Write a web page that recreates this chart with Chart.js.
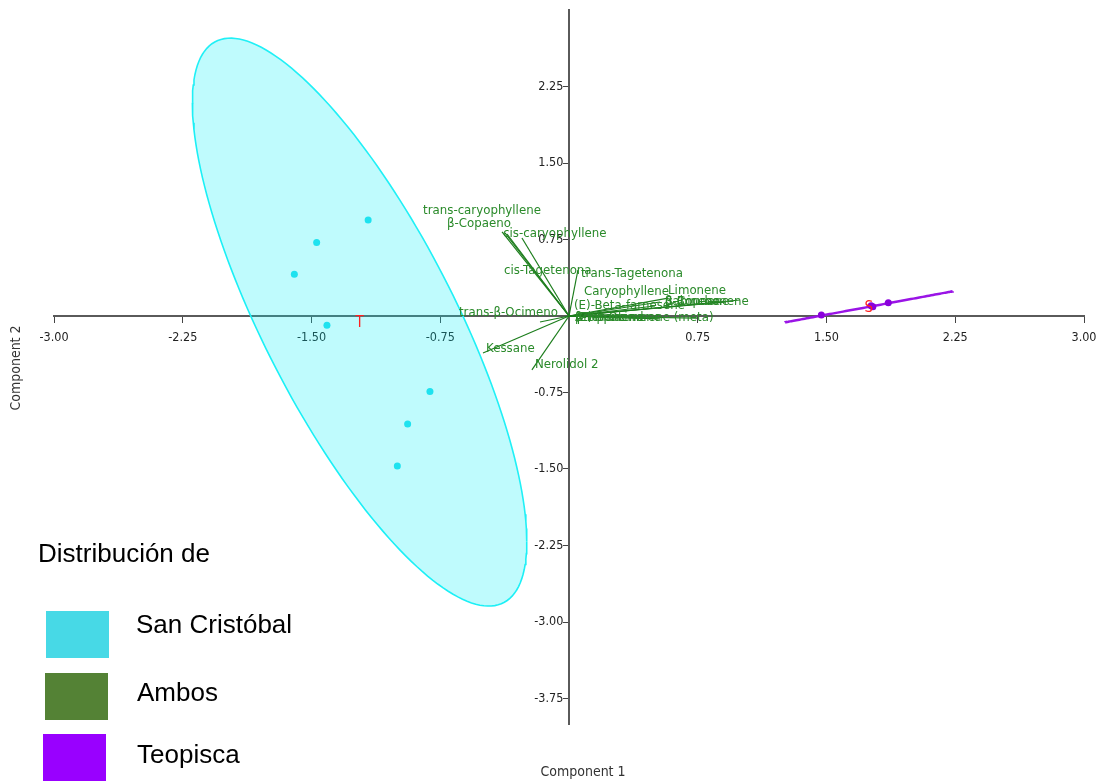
<!DOCTYPE html>
<html>
<head>
<meta charset="utf-8">
<script src="https://cdn.jsdelivr.net/npm/chart.js@4.4.0/dist/chart.umd.min.js"></script>
<style>
  body { margin: 0; background: #fff; }
  #wrap { position: relative; width: 1101px; height: 783px; }
  #biplot { position: absolute; left: 0; top: 0; }
  .legend-text { position: absolute; font-family: "Liberation Sans", Arial, sans-serif; font-size: 26px; line-height: 30px; color: #000; white-space: nowrap; }
  .swatch { position: absolute; width: 63px; height: 47px; }
</style>
</head>
<body>
<div id="wrap">
  <canvas id="biplot"></canvas>
  <div class="legend-text" style="left:38px; top:538px;">Distribución de</div>
  <div class="swatch" style="left:46px; top:611px; background:#47d9e6;"></div>
  <div class="legend-text" style="left:136px; top:609px;">San Cristóbal</div>
  <div class="swatch" style="left:45px; top:673px; background:#548235;"></div>
  <div class="legend-text" style="left:137px; top:677px;">Ambos</div>
  <div class="swatch" style="left:43px; top:734px; background:#9900ff;"></div>
  <div class="legend-text" style="left:137px; top:739px;">Teopisca</div>
</div>
<script>
// PCA biplot (Component 1 vs Component 2)

// sample scores
const scX = [-1.17, -1.47, -1.60, -1.41, -0.81, -0.94, -1.00];
const scY = [0.94, 0.72, 0.41, -0.09, -0.74, -1.06, -1.47];
const teoX = [1.47, 1.76, 1.77, 1.86];
const teoY = [0.01, 0.10, 0.09, 0.13];

// 95% ellipses: centre x, centre y, half range x, half range y, phase
const scEllipse = [-1.22, -0.06, 0.974, 2.784, 2.454];
const teoEllipse = [1.747, 0.09, 0.488, 0.152, 0];
const groupMarks = ['T', 'S'];

// loadings (vector tips)
const loadingNames = [
    'trans-caryophyllene', 'β-Copaeno', 'cis-caryophyllene', 'cis-Tagetenona',
    'trans-Tagetenona', 'Caryophyllene', 'Limonene', 'Sabinene', 'α-Copaene',
    'β-Bourbonene', '(E)-Beta-farnesene', 'Aromadendrene (meta)', 'γ-Terpinene',
    '(Z)-β-Ocimene', 'β-Pinene', 'trans-β-Ocimeno', 'Kessane', 'Nerolidol 2'
];
const loadingX = [-0.390, -0.373, -0.361, -0.274, 0.052, 0.530, 0.577, 0.996, 0.955,
    0.915, 0.501, 0.746, 0.530, 0.414, 0.297, -0.169, -0.501, -0.216];
const loadingY = [0.824, 0.814, 0.804, 0.765, 0.451, 0.137, 0.176, 0.157, 0.147,
    0.137, 0.098, -0.020, -0.029, -0.020, -0.010, -0.059, -0.363, -0.529];

const xTicks = [-3, -2.25, -1.5, -0.75, 0.75, 1.5, 2.25, 3];
const yTicks = [2.25, 1.5, 0.75, -0.75, -1.5, -2.25, -3, -3.75];

// label nudges in px (overlapping names in the original)
const labelShift = {
    'trans-caryophyllene': [-82, -18], 'β-Copaeno': [-61, -6], 'cis-caryophyllene': [-7, 3],
    'cis-Tagetenona': [-21, 36], 'trans-Tagetenona': [0, 7], 'Caryophyllene': [-79, -7],
    'Limonene': [-3, -4], 'Sabinene': [-78, 5], 'α-Copaene': [-71, 4], 'β-Bourbonene': [-64, 3],
    '(E)-Beta-farnesene': [-84, 3], 'Aromadendrene (meta)': [-125, 3], 'γ-Terpinene': [-88, 2],
    '(Z)-β-Ocimene': [-68, 3], 'β-Pinene': [-48, 4], 'trans-β-Ocimeno': [-84, -6],
    'Kessane': [0, -1], 'Nerolidol 2': [0, -2]
};

const narrowFont = '"Liberation Sans Narrow", "DejaVu Sans Condensed", "Liberation Sans", sans-serif';

// one half of an ellipse, x increasing
function ellipseArc(e, upper) {
    const [cx, cy, rx, ry, phase] = e;
    const pts = [];
    for (let i = 0; i <= 90; i++) {
        const t = upper ? Math.PI - i / 90 * Math.PI : Math.PI + i / 90 * Math.PI;
        pts.push({ x: cx + rx * Math.cos(t), y: cy + ry * Math.cos(t - phase) });
    }
    return pts;
}

const toPoints = (xs, ys) => xs.map((v, i) => ({ x: v, y: ys[i] }));

const loadingSets = loadingNames.map((name, i) => ({
    label: name,
    data: [{ x: 0, y: 0 }, { x: loadingX[i], y: loadingY[i] }],
    showLine: true,
    borderColor: '#1c7d1c',
    borderWidth: 1.2,
    pointRadius: 0,
    order: 5
}));

const textPlugin = {
    id: 'biplotText',
    afterDraw(chart) {
        const { ctx, scales: { x, y } } = chart;
        ctx.save();
        // loading labels
        ctx.font = '11.8px "DejaVu Sans", sans-serif';
        ctx.fillStyle = '#2a8a2a';
        ctx.textAlign = 'left';
        ctx.textBaseline = 'middle';
        loadingNames.forEach((name, i) => {
            const s = labelShift[name] || [0, 0];
            ctx.fillText(name, x.getPixelForValue(loadingX[i]) + 3 + s[0],
                y.getPixelForValue(loadingY[i]) - 3 + s[1]);
        });
        // group marks at ellipse centres
        ctx.font = '15px ' + narrowFont;
        ctx.fillStyle = '#ff2020';
        ctx.textAlign = 'center';
        [scEllipse, teoEllipse].forEach((e, i) => {
            ctx.fillText(groupMarks[i], x.getPixelForValue(e[0]), y.getPixelForValue(e[1]) + 1);
        });
        // axis titles
        ctx.font = '14px ' + narrowFont;
        ctx.fillStyle = '#333';
        ctx.fillText('Component 1', x.getPixelForValue(0) + 14, 772);
        ctx.translate(16, 368);
        ctx.rotate(-Math.PI / 2);
        ctx.fillText('Component 2', 0, 0);
        ctx.restore();
    }
};

new Chart(document.getElementById('biplot'), {
    type: 'scatter',
    data: {
        datasets: [
            {
                label: 'San Cristóbal ellipse',
                data: ellipseArc(scEllipse, true),
                showLine: true,
                fill: '+1',
                backgroundColor: 'rgba(0, 238, 248, 0.25)',
                borderColor: '#20f0f6',
                borderWidth: 1.6,
                pointRadius: 0,
                order: 10
            },
            {
                label: 'San Cristóbal ellipse lower',
                data: ellipseArc(scEllipse, false),
                showLine: true,
                borderColor: '#20f0f6',
                borderWidth: 1.6,
                pointRadius: 0,
                order: 10
            },
            {
                label: 'Teopisca ellipse',
                data: ellipseArc(teoEllipse, true),
                showLine: true,
                borderColor: '#9a14e6',
                borderWidth: 2.5,
                pointRadius: 0,
                order: 3
            },
            ...loadingSets,
            {
                label: 'San Cristóbal',
                data: toPoints(scX, scY),
                backgroundColor: '#1ee2ef',
                borderWidth: 0,
                pointRadius: 3.5,
                order: 1
            },
            {
                label: 'Teopisca',
                data: toPoints(teoX, teoY),
                backgroundColor: '#8a00dc',
                borderWidth: 0,
                pointRadius: 3.5,
                order: 1
            }
        ]
    },
    options: {
        responsive: true,
        maintainAspectRatio: false,
        animation: false,
        events: [],
        layout: { padding: { left: 54, right: 17, top: 10, bottom: 59 } },
        plugins: {
            legend: { display: false },
            tooltip: { enabled: false }
        },
        scales: {
            x: {
                type: 'linear',
                min: -3,
                max: 3,
                position: { y: 0 },
                z: 1,
                // let layout.padding alone decide the plot width
                afterFit: s => { s.paddingLeft = 0; s.paddingRight = 0; },
                afterBuildTicks: s => { s.ticks = xTicks.map(v => ({ value: v })); },
                ticks: {
                    callback: v => v.toFixed(2),
                    font: { family: narrowFont, size: 12.5 },
                    color: '#222',
                    padding: 8,
                    maxRotation: 0,
                    autoSkip: false
                },
                grid: { drawOnChartArea: false, tickLength: 6, color: '#444' },
                border: { color: '#5a5a5a', width: 2 }
            },
            y: {
                type: 'linear',
                min: -4,
                max: 3,
                position: { x: 0 },
                z: 1,
                afterFit: s => { s.width = 0; },
                afterBuildTicks: s => { s.ticks = yTicks.map(v => ({ value: v })); },
                ticks: {
                    // centred axis puts labels on the line, so pad with an en space
                    callback: v => v.toFixed(2) + '\u2002',
                    font: { family: narrowFont, size: 12.5 },
                    color: '#222',
                    padding: 2,
                    autoSkip: false
                },
                grid: { drawOnChartArea: false, tickLength: 5, color: '#444' },
                border: { color: '#5a5a5a', width: 2 }
            }
        }
    },
    plugins: [textPlugin]
});
</script>
</body>
</html>
